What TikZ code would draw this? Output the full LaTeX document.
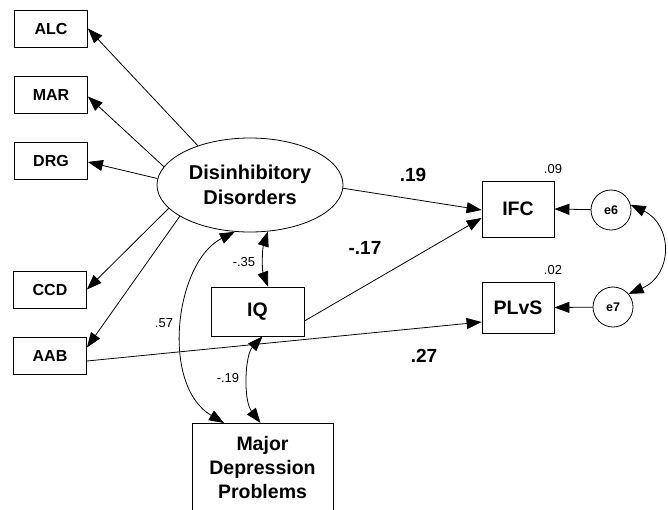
\documentclass[tikz,border=0pt]{standalone}
\usepackage{fontspec}
\setmainfont{Liberation Sans}
\usetikzlibrary{arrows.meta,shapes.geometric}
\begin{document}
\begin{tikzpicture}[x=1pt,y=-1pt,
  line width=0.8pt,
  tip/.style={-{Triangle[length=15pt,width=11pt]}},
  dtip/.style={{Triangle[length=15pt,width=11pt]}-{Triangle[length=15pt,width=11pt]}},
  smallbox/.style={draw,minimum width=73pt,minimum height=37pt,inner sep=0pt,font=\fontsize{16}{18}\selectfont\bfseries},
  bigbox/.style={draw,inner sep=0pt,font=\fontsize{19.5}{24}\selectfont\bfseries,align=center},
  errc/.style={draw,circle,minimum size=40pt,inner sep=0pt,font=\fontsize{12.5}{14}\selectfont\bfseries},
  wlab/.style={font=\fontsize{19}{22}\selectfont\bfseries},
  slab/.style={font=\fontsize{13}{15}\selectfont}]
\useasboundingbox (0,0) rectangle (668,509);
\clip (0,0) rectangle (668,509);
% observed indicators
\node[smallbox] (alc) at (51,28.5) {ALC};
\node[smallbox] (mar) at (51,94.5) {MAR};
\node[smallbox] (drg) at (51,160.5) {DRG};
\node[smallbox] (ccd) at (50,289.5) {CCD};
\node[smallbox] (aab) at (50,355.5) {AAB};
% latent
\node[draw,ellipse,minimum width=186pt,minimum height=94pt,inner sep=0pt,align=center,
      font=\fontsize{20}{25}\selectfont\bfseries] (dis) at (250,185) {Disinhibitory\\Disorders};
% other boxes
\node[bigbox,minimum width=93pt,minimum height=49pt] (iq) at (257.5,311.5) {IQ};
\node[bigbox,minimum width=141pt,minimum height=88pt,anchor=north] (mdp) at (262.5,423) {Major\\Depression\\Problems};
\node[bigbox,minimum width=72pt,minimum height=56pt] (ifc) at (518,209) {IFC};
\node[bigbox,minimum width=72pt,minimum height=51pt] (plvs) at (518,307.5) {PLvS};
\node[errc] (e6) at (611,210) {e6};
\node[errc] (e7) at (613,307) {e7};
% R-squared
\node[slab] (r1) at (553,169) {.09};
\node[slab] (r2) at (553,270) {.02};
% loadings
\draw[tip] (dis.143.6) -- (alc.east);
\draw[tip] (dis.168) -- ([yshift=-2]mar.east);
\draw[tip] (dis.176) -- ([yshift=-1.5]drg.east);
\draw[tip] (dis.196.7) -- (ccd.east);
\draw[tip] (dis.204) -- ([yshift=8]aab.east);
% regressions
\draw[tip] (dis.-2) -- ([yshift=-1]ifc.west);
\draw[tip] ([yshift=-9.5]iq.east) -- ([yshift=-9]ifc.west);
\draw[tip] ([yshift=-5.5]aab.east) -- ([yshift=-14.5]plvs.west);
\draw[tip] (e6) -- (ifc.east);
\draw[tip] (e7) -- (plvs.east);
% covariances
\draw[dtip] (dis.-69) .. controls (262,250) and (262,270) .. ([xshift=10.5]iq.north);
\draw[dtip] (dis.-108.8) .. controls (175,262) and (160,385) .. ([xshift=-38.5]mdp.north);
\draw[dtip] ([xshift=5]iq.south) .. controls (245,355) and (243,400) .. ([xshift=-2]mdp.north);
\draw[dtip] (e6.15) .. controls (673,225) and (673,275) .. (e7.40);
% labels
\node[wlab] (l1) at (413,175) {.19};
\node[wlab] (l2) at (365,248) {-.17};
\node[wlab] (l3) at (424,356) {.27};
\node[slab] (l4) at (244,262) {-.35};
\node[slab] (l5) at (164,323) {.57};
\node[slab] (l6) at (228,378) {-.19};
\end{tikzpicture}
\end{document}
